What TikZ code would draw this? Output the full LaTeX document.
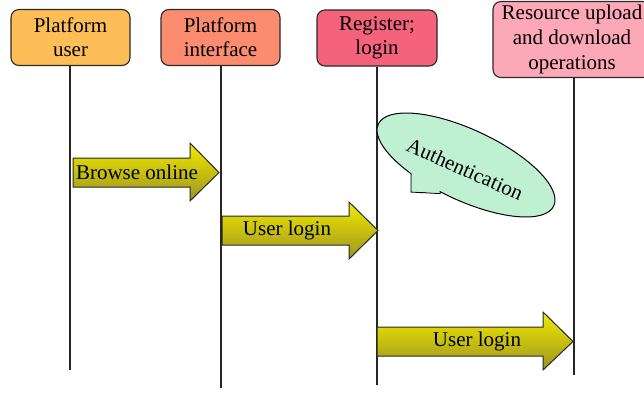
\documentclass[tikz,border=0pt]{standalone}
\usepackage{fontspec}
\setmainfont{Liberation Serif}
\usetikzlibrary{shapes.geometric}
\definecolor{cuser}{HTML}{FDBE57}
\definecolor{cintf}{HTML}{FC8C6F}
\definecolor{creg}{HTML}{F4627B}
\definecolor{cres}{HTML}{FDA8B7}
\definecolor{cauth}{HTML}{BFF0D2}
\definecolor{cedge}{HTML}{2A2A2A}
\definecolor{ytop}{HTML}{F2EA00}
\definecolor{ymid}{HTML}{DCD300}
\definecolor{ybot}{HTML}{9C9420}
\begin{document}
\begin{tikzpicture}[x=1pt,y=-1pt,font=\fontsize{21}{25}\selectfont,
  actor/.style={draw=cedge,line width=1.1pt,rounded corners=8pt,align=center,inner sep=0pt},
  life/.style={draw=black!85,line width=1.5pt},
  blockarrow/.style={draw=black!85,line width=1pt,top color=ytop,middle color=ymid,bottom color=ybot,line join=miter},
  lbl/.style={inner sep=0pt}]
\useasboundingbox (0,0) rectangle (644,392);

% actors
\node[actor,fill=cuser,minimum width=119pt,minimum height=56pt] (pu) at (70.5,37.5) {Platform\\[-1pt]user};
\node[actor,fill=cintf,minimum width=119pt,minimum height=56pt] (pi) at (220.5,37.5) {Platform\\[-1pt]interface};
\node[actor,fill=creg,minimum width=120pt,minimum height=56pt] (rl) at (377,38) {Register;\\[-1pt]login};
\node[actor,fill=cres,minimum width=158pt,minimum height=76pt] (rd) at (572,39.5) {Resource upload\\and download\\operations};

% lifeline ends
\coordinate (pue) at (70,370);
\coordinate (pie) at (221,388);
\coordinate (rle) at (377,385);
\coordinate (rde) at (574,375);
\draw[life] (pu.south -| pue) -- (pue);
\draw[life] (pi.south -| pie) -- (pie);
\draw[life] (rl.south) -- (rle);
\draw[life] (rd.south -| rde) -- (rde);

% block arrows
\shade[blockarrow] (73,158) -- (190,158) -- (190,143) -- (219,172.5) -- (190,201) -- (190,187) -- (73,187) -- cycle;
\node[lbl] (ba) at (137,172.5) {Browse online};

\shade[blockarrow] (222,216) -- (349,216) -- (349,202) -- (378,230.5) -- (349,259) -- (349,245) -- (222,245) -- cycle;
\node[lbl] (ul1) at (287,230.5) {User login};

\shade[blockarrow] (377,327) -- (543,327) -- (543,312) -- (573,341.5) -- (543,370) -- (543,356) -- (377,356) -- cycle;
\node[lbl] (ul2) at (477,341.5) {User login};

% authentication callout
\filldraw[fill=cauth,draw=black,line width=1pt,line join=miter] (411,168) -- (411,192) -- (440,193.5) -- (440,168) -- cycle;
\node[ellipse,draw=black,fill=cauth,line width=1pt,minimum width=193.6pt,minimum height=70.8pt,inner sep=0pt,rotate=-25] (auth) at (466,165) {};
\fill[cauth] (411.6,166) -- (411.6,191.4) -- (439.5,192.9) -- (439.5,166) -- cycle;
\node[lbl,rotate=-24] (authtxt) at (465,169) {Authentication};
\end{tikzpicture}
\end{document}
